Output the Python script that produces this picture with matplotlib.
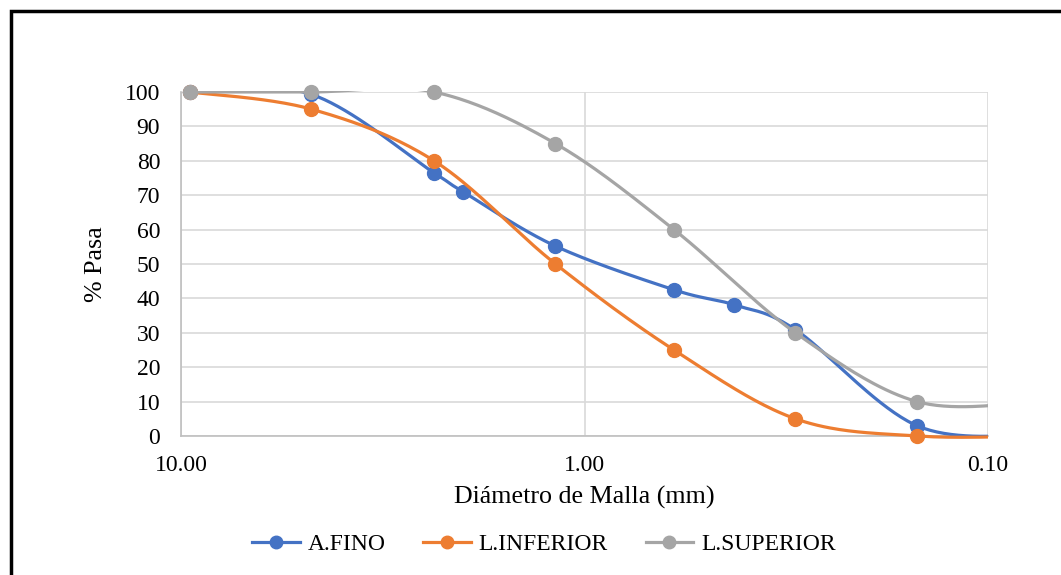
import numpy as np
import matplotlib
matplotlib.use("Agg")
import matplotlib.pyplot as plt
from matplotlib.patches import Rectangle
from matplotlib.ticker import FixedLocator, FuncFormatter

plt.rcParams['font.family'] = ['Liberation Serif', 'DejaVu Serif']

# Sieve openings (mm)
tamiz_fino = [9.5, 4.75, 2.36, 2.0, 1.18, 0.6, 0.425, 0.3, 0.15, 0.075]
a_fino = [100, 99.3, 76.5, 71, 55.2, 42.5, 38.1, 30.9, 3.0, 0.3]

tamiz_lim = [9.5, 4.75, 2.36, 1.18, 0.6, 0.3, 0.15, 0.075]
l_inferior = [100, 95, 80, 50, 25, 5, 0, 0]
l_superior = [100, 100, 100, 85, 60, 30, 10, 10]

series = [
    ("A.FINO", tamiz_fino, a_fino, "#4472C4"),
    ("L.INFERIOR", tamiz_lim, l_inferior, "#ED7D31"),
    ("L.SUPERIOR", tamiz_lim, l_superior, "#A5A5A5"),
]

W, H = 1061, 575
fig = plt.figure(figsize=(W / 100, H / 100), dpi=100)
ax_l, ax_r, ax_t, ax_b = 181, 988, 92, 436
ax = fig.add_axes([ax_l / W, 1 - ax_b / H, (ax_r - ax_l) / W, (ax_b - ax_t) / H])

ax.set_xscale('log')
ax.set_xlim(10, 0.1)
ax.set_ylim(0, 100)

# pixel scale for spline computation (display-like space)
sx = (ax_r - ax_l) / 2.0   # px per decade
sy = (ax_b - ax_t) / 100.0  # px per unit


def smooth(xs, ys, n=40):
    u = -np.log10(np.asarray(xs, float)) * sx
    v = np.asarray(ys, float) * sy
    P = np.column_stack([u, v])
    out = []
    m = len(P)
    for i in range(m - 1):
        p0 = P[i - 1] if i > 0 else P[i]
        p1 = P[i]
        p2 = P[i + 1]
        p3 = P[i + 2] if i + 2 < m else P[i + 1]
        c1 = p1 + (p2 - p0) / 6.0
        c2 = p2 - (p3 - p1) / 6.0
        t = np.linspace(0, 1, n)[:, None]
        seg = ((1 - t) ** 3) * p1 + 3 * ((1 - t) ** 2) * t * c1 + 3 * (1 - t) * t ** 2 * c2 + t ** 3 * p2
        out.append(seg if i == 0 else seg[1:])
    C = np.vstack(out)
    xx = 10 ** (-C[:, 0] / sx)
    yy = C[:, 1] / sy
    return xx, yy


# clip region: plot area plus a small margin (like the plot-area clipping of the original)
mt = 1.5 / (ax_b - ax_t)
clip_rect = Rectangle((0, -0.05), 1.0, 1.05 + mt, transform=ax.transAxes, fill=False, visible=False)
ax.add_patch(clip_rect)

for z, (name, xs, ys, col) in enumerate(series):
    cx, cy = smooth(xs, ys)
    ln, = ax.plot(cx, cy, color=col, lw=2.3, solid_capstyle='butt', zorder=3 + z)
    ln.set_clip_path(clip_rect)
    xs_a = np.asarray(xs); ys_a = np.asarray(ys)
    vis = xs_a >= 0.1
    ax.plot(xs_a[vis], ys_a[vis], 'o', color=col, ms=10, clip_on=False, zorder=3 + z)
    ax.plot([], [], '-o', color=col, lw=2.3, ms=9, label=name)

ax.yaxis.set_major_locator(FixedLocator(np.arange(0, 101, 10)))
ax.xaxis.set_major_locator(FixedLocator([10, 1, 0.1]))
ax.xaxis.set_minor_locator(FixedLocator([]))
ax.xaxis.set_major_formatter(FuncFormatter(lambda v, p: f"{v:.2f}"))
ax.grid(True, which='major', color='#D9D9D9', lw=1.2, zorder=0)
ax.set_axisbelow(True)
for s in ['top', 'right']:
    ax.spines[s].set_visible(False)
for s in ['left', 'bottom']:
    ax.spines[s].set_color('#BFBFBF')
    ax.spines[s].set_linewidth(1.2)
ax.tick_params(axis='both', length=0, labelsize=17, colors='black')
ax.tick_params(axis='y', pad=15)
ax.tick_params(axis='x', pad=14)

ax.set_xlabel("Diámetro de Malla (mm)", fontsize=18.7, labelpad=7)
ax.set_ylabel("% Pasa", fontsize=18.7, labelpad=12.5)

leg = fig.legend(loc='center', bbox_to_anchor=(544 / W, 1 - 544 / H), ncol=3, frameon=False,
                 fontsize=17, handlelength=2.0, columnspacing=1.6, handletextpad=0.34)

# outer frame (only top and left visible in the crop)
fig.patches.append(Rectangle((11 / W, -0.05), 1.2, 1 - 11 / H + 0.05, transform=fig.transFigure,
                             fill=False, edgecolor='black', lw=2.5))

fig.savefig("out.png", dpi=100)
